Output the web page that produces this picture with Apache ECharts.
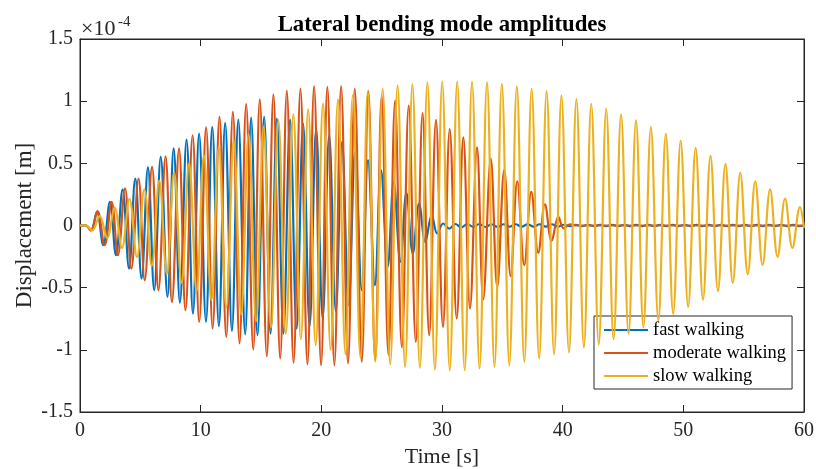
<!DOCTYPE html>
<html><head><meta charset="utf-8">
<script src="https://cdn.jsdelivr.net/npm/echarts@6/dist/echarts.min.js"></script>
<style>html,body{margin:0;padding:0;background:#fff}#c{width:816px;height:469px}</style>
</head><body><div id="c"></div>
<script>
// values in units of 1e-4 m, [time s, displacement]
const seriesNames = ['fast walking', 'moderate walking', 'slow walking'];
const fastWalking = [[0,0],[0.5,0],[0.9,-0.04],[1.40,0.11],[1.93,-0.159],[2.48,0.19],[2.98,-0.239],[3.53,0.29],[4.06,-0.346],[4.58,0.378],[5.10,-0.426],[5.63,0.467],[6.15,-0.52],[6.69,0.552],[7.25,-0.574],[7.76,0.62],[8.28,-0.62],[8.83,0.69],[9.36,-0.708],[9.87,0.74],[10.44,-0.775],[10.96,0.793],[11.51,-0.81],[12.03,0.825],[12.59,-0.848],[13.12,0.852],[13.69,-0.875],[14.18,0.868],[14.71,-0.883],[15.26,0.874],[15.79,-0.869],[16.32,0.86],[16.86,-0.869],[17.41,0.852],[17.95,-0.829],[18.49,0.82],[19.03,-0.81],[19.57,0.78],[20.11,-0.748],[20.65,0.726],[21.2,-0.69],[21.72,0.673],[22.26,-0.641],[22.8,0.592],[23.35,-0.52],[23.87,0.525],[24.44,-0.48],[24.95,0.445],[25.5,-0.333],[26.0,0.351],[26.55,-0.293],[27.05,0.262],[27.58,-0.225],[28.1,0.177],[28.62,-0.132],[29.15,0.083],[29.6,-0.064],[30.1,0.016],[30.6,-0.025],[31.1,0.012],[31.6,-0.015],[32.1,0.012],[32.6,-0.012],[33.1,0.012],[33.6,-0.012],[34.1,0.01],[34.6,-0.012],[35.1,0.01],[35.6,-0.01],[36.1,0.01],[36.6,-0.01],[37.1,0.01],[37.6,-0.01],[38.1,0.01],[38.6,-0.01],[39.1,0.01],[39.6,-0.01],[40.1,0.006],[40.6,-0.006],[41.1,0.006],[41.6,-0.006],[42.1,0.006],[42.6,-0.006],[43.1,0.006],[43.6,-0.006],[44.1,0.006],[44.6,-0.006],[45.1,0.006],[45.6,-0.006],[46.1,0.006],[46.6,-0.006],[47.1,0.006],[47.6,-0.006],[48.1,0.006],[48.6,-0.006],[49.1,0.006],[49.6,-0.006],[50.1,0.006],[50.6,-0.006],[51.1,0.006],[51.6,-0.006],[52.1,0.006],[52.6,-0.006],[53.1,0.006],[53.6,-0.006],[54.1,0.006],[54.6,-0.006],[55.1,0.006],[55.6,-0.006],[56.1,0.006],[56.6,-0.006],[57.1,0.006],[57.6,-0.006],[58.1,0.006],[58.6,-0.006],[59.1,0.006],[59.6,-0.006],[60,0]];
const moderateWalking = [[0,0],[0.5,0],[0.9,-0.04],[1.45,0.115],[2.04,-0.159],[2.62,0.19],[3.14,-0.239],[3.73,0.298],[4.25,-0.346],[4.85,0.378],[5.36,-0.44],[5.97,0.471],[6.5,-0.52],[7.09,0.557],[7.62,-0.615],[8.21,0.62],[8.74,-0.681],[9.33,0.726],[9.88,-0.775],[10.45,0.79],[10.99,-0.829],[11.56,0.874],[12.12,-0.896],[12.67,0.914],[13.22,-0.949],[13.77,0.976],[14.36,-0.998],[14.9,1.014],[15.48,-1.051],[16.03,1.055],[16.59,-1.07],[17.14,1.085],[17.7,-1.105],[18.27,1.102],[18.85,-1.116],[19.4,1.121],[19.98,-1.124],[20.5,1.115],[21.08,-1.124],[21.64,1.121],[22.21,-1.11],[22.77,1.102],[23.35,-1.097],[23.9,1.08],[24.46,-1.084],[25.0,1.045],[25.56,-1.04],[26.11,1.005],[26.67,-0.98],[27.24,0.964],[27.83,-0.936],[28.39,0.904],[28.94,-0.883],[29.5,0.85],[30.08,-0.816],[30.64,0.776],[31.22,-0.748],[31.77,0.708],[32.32,-0.668],[32.9,0.628],[33.42,-0.595],[34.04,0.539],[34.58,-0.494],[35.16,0.45],[35.69,-0.408],[36.24,0.356],[36.82,-0.319],[37.4,0.27],[37.98,-0.22],[38.53,0.171],[39.09,-0.124],[39.64,0.069],[40.1,-0.024],[40.6,0.01],[41.2,0],[60,0]];
const slowWalking = [[0,0],[0.5,0],[1.0,-0.04],[1.63,0.075],[2.25,-0.1],[2.86,0.145],[3.48,-0.18],[4.10,0.215],[4.72,-0.255],[5.33,0.29],[5.95,-0.325],[6.57,0.36],[7.19,-0.39],[7.80,0.425],[8.42,-0.46],[9.04,0.5],[9.66,-0.53],[10.27,0.565],[10.89,-0.6],[11.50,0.63],[12.12,-0.66],[12.74,0.685],[13.36,-0.715],[13.97,0.74],[14.59,-0.77],[15.21,0.795],[15.83,-0.82],[16.44,0.847],[17.06,-0.87],[17.68,0.893],[18.30,-0.915],[18.91,0.935],[19.53,-0.96],[20.14,0.98],[20.77,-1.0],[21.38,1.015],[22.0,-1.035],[22.61,1.048],[23.24,-1.065],[23.85,1.08],[24.47,-1.095],[25.08,1.102],[25.71,-1.118],[26.32,1.128],[26.94,-1.137],[27.55,1.137],[28.17,-1.146],[28.79,1.152],[29.41,-1.159],[30.02,1.158],[30.64,-1.164],[31.26,1.158],[31.88,-1.164],[32.49,1.158],[33.11,-1.15],[33.73,1.153],[34.35,-1.137],[34.96,1.139],[35.58,-1.124],[36.20,1.121],[36.82,-1.097],[37.43,1.102],[38.05,-1.07],[38.67,1.08],[39.29,-1.035],[39.90,1.046],[40.52,-1.02],[41.14,1.016],[41.76,-0.98],[42.37,0.978],[42.99,-0.958],[43.61,0.938],[44.22,-0.915],[44.84,0.893],[45.46,-0.87],[46.08,0.845],[46.69,-0.818],[47.31,0.791],[47.93,-0.765],[48.55,0.737],[49.16,-0.71],[49.78,0.681],[50.40,-0.655],[51.02,0.624],[51.63,-0.596],[52.25,0.56],[52.87,-0.526],[53.49,0.493],[54.10,-0.461],[54.72,0.423],[55.34,-0.392],[55.96,0.356],[56.57,-0.319],[57.19,0.29],[57.81,-0.252],[58.43,0.217],[59.04,-0.18],[59.66,0.148],[60,-0.02]];
const colors = ['#0072BD', '#D95319', '#EDB120'];
const xMin = 0, xMax = 60, xStep = 10;
const yMin = -1.5, yMax = 1.5, yStep = 0.5;

const FONT = "'Liberation Serif','Times New Roman',serif";
const AX = '#262626';
const chart = echarts.init(document.getElementById('c'), null, {renderer: 'canvas'});
const allData = [fastWalking, moderateWalking, slowWalking];
const axisCommon = {
  axisLine: {show: true, onZero: false, lineStyle: {color: AX, width: 1}},
  axisTick: {show: true, inside: true, length: 7, lineStyle: {color: AX}},
  splitLine: {show: false}
};
chart.setOption({
  animation: false,
  grid: {left: 80, right: 12, top: 39, bottom: 57, show: true, borderColor: AX, borderWidth: 1,
    containLabel: false, outerBoundsMode: 'none'},
  xAxis: [
    Object.assign({type: 'value', min: xMin, max: xMax, interval: xStep, position: 'bottom',
      axisLabel: {color: AX, fontSize: 20, fontFamily: FONT, margin: 9},
      name: 'Time [s]', nameLocation: 'middle', nameGap: 34,
      nameTextStyle: {color: AX, fontSize: 22, fontFamily: FONT}}, axisCommon),
    Object.assign({type: 'value', min: xMin, max: xMax, interval: xStep, position: 'top',
      axisLabel: {show: false}}, axisCommon)
  ],
  yAxis: [
    Object.assign({type: 'value', min: yMin, max: yMax, interval: yStep, position: 'left',
      axisLabel: {color: AX, fontSize: 20, fontFamily: FONT, margin: 7},
      name: 'Displacement [m]', nameLocation: 'middle', nameGap: 44, nameMoveOverlap: false,
      nameTextStyle: {color: AX, fontSize: 23, fontFamily: FONT}}, axisCommon),
    Object.assign({type: 'value', min: yMin, max: yMax, interval: yStep, position: 'right',
      axisLabel: {show: false}}, axisCommon)
  ],
  legend: {
    data: seriesNames, orient: 'vertical', left: 594, top: 316,
    icon: 'rect', itemWidth: 44, itemHeight: 2, itemGap: 3,
    padding: [4, 6, 3, 10],
    backgroundColor: '#fff', borderColor: AX, borderWidth: 1,
    textStyle: {fontSize: 18.5, fontFamily: FONT, color: '#000', lineHeight: 20}
  },
  graphic: [
    {type: 'text', x: 442, y: 14, style: {text: 'Lateral bending mode amplitudes', fill: '#000',
      font: "bold 22.8px " + FONT, align: 'center', verticalAlign: 'top'}},
    {type: 'text', x: 81, y: 18, style: {text: '×10', fill: AX, font: "22px " + FONT, align: 'left', verticalAlign: 'top'}},
    {type: 'text', x: 118, y: 15, style: {text: '-4', fill: AX, font: "15px " + FONT, align: 'left', verticalAlign: 'top'}}
  ],
  series: allData.map((d, i) => ({
    name: seriesNames[i], type: 'line', data: d, showSymbol: false, smooth: 0.38,
    lineStyle: {width: 2.2, color: colors[i]}, itemStyle: {color: colors[i]}, z: 2 + i
  }))
});
</script></body></html>
